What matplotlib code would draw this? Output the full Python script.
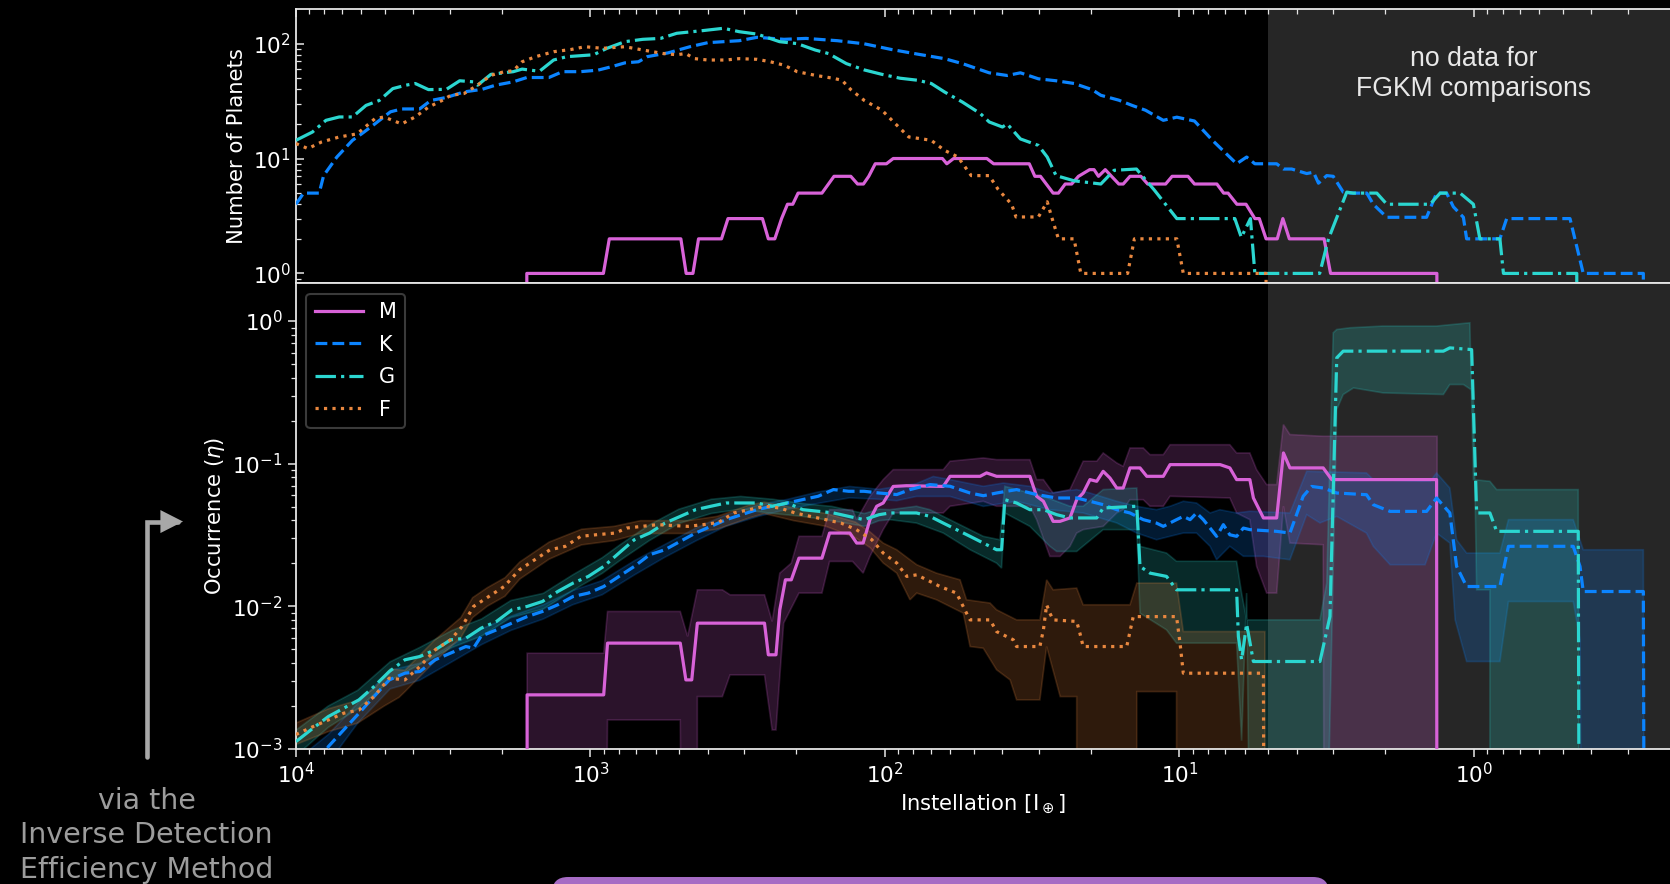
import numpy as np
import matplotlib
matplotlib.use("Agg")
import matplotlib.pyplot as plt
from matplotlib.path import Path
from matplotlib.patches import FancyArrowPatch, FancyBboxPatch
from matplotlib.transforms import IdentityTransform


# DATA  (x = log10 instellation)

# number of planets per spectral type: (log10 S, N)
m_count = [
    (3.216, 0), (3.216, 1), (2.956, 1), (2.936, 2), (2.693, 2), (2.675, 1), (2.652, 1), (2.633, 2),
    (2.555, 2), (2.533, 3), (2.416, 3), (2.396, 2), (2.374, 2), (2.351, 3), (2.331, 4), (2.313, 4),
    (2.295, 5), (2.214, 5), (2.173, 7), (2.116, 7), (2.093, 6), (2.073, 6), (2.055, 7), (2.033, 9),
    (1.995, 9), (1.972, 10), (1.805, 10), (1.790, 9), (1.767, 10), (1.654, 10), (1.631, 9), (1.510, 9),
    (1.491, 7), (1.472, 7), (1.429, 5), (1.411, 5), (1.388, 6), (1.366, 6), (1.343, 7), (1.305, 8),
    (1.290, 8), (1.275, 7), (1.252, 8), (1.206, 6), (1.191, 6), (1.168, 7), (1.131, 7), (1.108, 6),
    (1.047, 6), (1.025, 7), (0.971, 7), (0.949, 6), (0.873, 6), (0.850, 5), (0.835, 5), (0.805, 4),
    (0.774, 4), (0.744, 3), (0.729, 3), (0.706, 2), (0.668, 2), (0.649, 3), (0.627, 2), (0.509, 2),
    (0.487, 1), (0.126, 1), (0.126, 0),
]
k_count = [
    (4.0, 4.0), (3.974, 5.0), (3.921, 5.0), (3.906, 7.1), (3.861, 10.3), (3.808, 14.4), (3.777, 16.4),
    (3.732, 20), (3.679, 25.5), (3.641, 27), (3.580, 27), (3.542, 32), (3.489, 34), (3.429, 38),
    (3.368, 40), (3.322, 43.5), (3.262, 46.5), (3.216, 50.7), (3.141, 50.7), (3.095, 57), (3.034, 57),
    (2.974, 58.8), (2.928, 63), (2.883, 68), (2.837, 69.5), (2.807, 77), (2.737, 83), (2.662, 94),
    (2.601, 102), (2.495, 106), (2.434, 113.5), (2.343, 109), (2.268, 111), (2.161, 106), (2.070, 99.6),
    (1.979, 89), (1.889, 81), (1.798, 74), (1.737, 67), (1.646, 55.7), (1.585, 52.8), (1.540, 55.7),
    (1.479, 49.4), (1.419, 47.5), (1.358, 45), (1.297, 39.8), (1.267, 35.5), (1.206, 32.2), (1.161, 29),
    (1.115, 26.3), (1.055, 21.5), (1.009, 22.9), (0.949, 21.2), (0.888, 14.4), (0.806, 9.0),
    (0.772, 10.3), (0.744, 9), (0.670, 9), (0.647, 8.1), (0.619, 8.1), (0.568, 7.4), (0.545, 7.6),
    (0.528, 6.1), (0.500, 7.1), (0.478, 7.0), (0.444, 5.1), (0.421, 5), (0.364, 5), (0.342, 4.0),
    (0.296, 3.08), (0.161, 3.08), (0.127, 5.0), (0.093, 5), (0.070, 3.8), (0.036, 3.08), (0.025, 2.0),
    (-0.088, 2.0), (-0.111, 3.0), (-0.326, 3.0), (-0.371, 1.0), (-0.575, 1.0), (-0.581, 0),
]
g_count = [
    (4.0, 14.4), (3.944, 17), (3.898, 21.5), (3.853, 23), (3.808, 23), (3.762, 29), (3.717, 32),
    (3.671, 40.6), (3.626, 43.5), (3.595, 45), (3.550, 39.8), (3.489, 40), (3.444, 47.5), (3.398, 46.5),
    (3.383, 43.5), (3.338, 54), (3.262, 57), (3.232, 60), (3.186, 58), (3.171, 58), (3.125, 72),
    (3.080, 77), (2.989, 80), (2.944, 91), (2.883, 104), (2.822, 109), (2.762, 111), (2.707, 123),
    (2.616, 130), (2.548, 136), (2.495, 127), (2.434, 121), (2.358, 104), (2.298, 100), (2.237, 88),
    (2.192, 82), (2.131, 67), (2.070, 59), (2.010, 54), (1.949, 50), (1.889, 48), (1.843, 45),
    (1.798, 38), (1.737, 31), (1.676, 24.6), (1.646, 20.8), (1.601, 18.8), (1.585, 20), (1.540, 14.8),
    (1.479, 13), (1.449, 10.3), (1.419, 7.1), (1.358, 6.4), (1.267, 6.0), (1.222, 7.9), (1.146, 8.1),
    (1.085, 5.3), (1.009, 3.0), (0.812, 3.0), (0.790, 2.06), (0.759, 3.0), (0.744, 1.0), (0.524, 1.0),
    (0.494, 2.0), (0.432, 5.1), (0.410, 5), (0.330, 5), (0.296, 4), (0.149, 4), (0.115, 5), (0.047, 5),
    (0.002, 4), (-0.020, 2), (-0.088, 2), (-0.100, 1), (-0.349, 1), (-0.355, 0),
]
f_count = [
    (4.0, 13.5), (3.959, 12.2), (3.914, 13.9), (3.853, 15.4), (3.792, 16.4), (3.732, 22.2), (3.701, 23),
    (3.641, 20), (3.595, 23), (3.550, 28), (3.504, 32), (3.474, 35.5), (3.429, 36.8), (3.383, 43.5),
    (3.338, 53), (3.292, 57), (3.262, 58), (3.232, 69.5), (3.186, 77), (3.125, 85), (3.065, 89),
    (3.019, 94), (2.959, 91), (2.883, 94), (2.822, 88), (2.753, 82), (2.707, 80), (2.677, 82),
    (2.646, 74), (2.601, 72), (2.540, 72), (2.495, 74), (2.434, 73), (2.389, 69.5), (2.343, 65),
    (2.298, 57), (2.237, 53), (2.177, 50), (2.146, 48), (2.116, 39.8), (2.070, 32), (2.010, 26.3),
    (1.964, 20), (1.919, 15.4), (1.873, 14.8), (1.843, 14.4), (1.798, 11.8), (1.752, 10.3), (1.707, 7.1),
    (1.646, 7.1), (1.616, 5.4), (1.570, 4.0), (1.555, 3.1), (1.479, 3.1), (1.449, 4.2), (1.434, 3.1),
    (1.411, 2.0), (1.358, 2.0), (1.335, 1.0), (1.176, 1.0), (1.153, 2.0), (1.009, 2.0), (0.987, 1.0),
    (0.706, 1.0), (0.706, 0),
]

# occurrence: (log10 S, log10 eta); -6 means "no value" (falls below the axis)
m_eta = [
    (3.215, -6), (3.215, -2.622), (2.955, -2.622), (2.942, -2.259), (2.695, -2.259), (2.676, -2.517),
    (2.656, -2.517), (2.637, -2.119), (2.409, -2.119), (2.396, -2.341), (2.370, -2.341), (2.357, -2.025),
    (2.338, -1.815), (2.318, -1.815), (2.292, -1.663), (2.214, -1.663), (2.188, -1.487), (2.119, -1.487),
    (2.096, -1.557), (2.074, -1.557), (2.051, -1.393), (2.028, -1.299), (2.006, -1.276), (1.972, -1.160),
    (1.927, -1.155), (1.802, -1.160), (1.779, -1.089), (1.677, -1.089), (1.655, -1.065), (1.621, -1.089),
    (1.508, -1.089), (1.485, -1.229), (1.462, -1.264), (1.429, -1.405), (1.406, -1.405), (1.372, -1.381),
    (1.349, -1.253), (1.327, -1.206), (1.304, -1.112), (1.281, -1.124), (1.259, -1.054), (1.236, -1.101),
    (1.213, -1.171), (1.191, -1.171), (1.168, -1.030), (1.134, -1.030), (1.111, -1.089), (1.055, -1.089),
    (1.032, -1.007), (0.862, -1.007), (0.829, -1.030), (0.806, -1.112), (0.761, -1.112), (0.749, -1.241),
    (0.715, -1.381), (0.670, -1.381), (0.647, -0.925), (0.625, -1.030), (0.512, -1.030), (0.483, -1.112),
    (0.127, -1.112), (0.125, -6),
]
m_eta_hi = [
    (3.215, -2.33), (2.955, -2.33), (2.942, -2.037), (2.695, -2.037), (2.670, -2.212), (2.637, -1.885),
    (2.552, -1.885), (2.526, -1.920), (2.409, -1.920), (2.383, -2.107), (2.357, -1.768), (2.318, -1.698),
    (2.292, -1.510), (2.214, -1.510), (2.188, -1.323), (2.110, -1.323), (2.096, -1.393), (2.051, -1.229),
    (2.006, -1.112), (1.972, -1.042), (1.802, -1.042), (1.779, -0.983), (1.666, -0.960), (1.621, -0.972),
    (1.508, -0.972), (1.485, -1.112), (1.462, -1.112), (1.429, -1.206), (1.372, -1.182), (1.327, -0.983),
    (1.281, -0.983), (1.259, -0.925), (1.213, -0.995), (1.191, -1.019), (1.168, -0.890), (1.123, -0.890),
    (1.100, -0.937), (1.055, -0.937), (1.032, -0.867), (0.829, -0.867), (0.806, -0.925), (0.761, -0.925),
    (0.738, -1.042), (0.704, -1.147), (0.670, -1.147), (0.647, -0.726), (0.625, -0.796), (0.512, -0.808),
    (0.125, -0.808),
]
m_eta_lo = [
    (3.215, -6), (2.955, -6), (2.942, -2.798), (2.695, -2.798), (2.682, -6), (2.637, -6), (2.637, -2.634),
    (2.552, -2.634), (2.526, -2.482), (2.409, -2.482), (2.383, -2.868), (2.370, -2.868), (2.344, -2.119),
    (2.292, -1.908), (2.214, -1.908), (2.188, -1.686), (2.110, -1.686), (2.074, -1.768), (2.051, -1.651),
    (2.006, -1.463), (1.972, -1.346), (1.802, -1.346), (1.779, -1.299), (1.666, -1.264), (1.621, -1.299),
    (1.508, -1.299), (1.485, -1.393), (1.440, -1.651), (1.406, -1.651), (1.372, -1.581), (1.349, -1.487),
    (1.327, -1.463), (1.259, -1.440), (1.213, -1.346), (1.191, -1.323), (1.168, -1.253), (1.123, -1.253),
    (1.100, -1.299), (1.055, -1.299), (1.032, -1.229), (0.829, -1.241), (0.806, -1.346), (0.761, -1.393),
    (0.738, -1.721), (0.704, -1.908), (0.670, -1.908), (0.647, -1.299), (0.625, -1.557), (0.512, -1.569),
    (0.506, -6), (0.125, -6),
]

k_eta = [
    (3.95, -3.2), (3.890, -2.985), (3.838, -2.868), (3.786, -2.751), (3.735, -2.634), (3.683, -2.517),
    (3.630, -2.470), (3.579, -2.458), (3.527, -2.376), (3.475, -2.329), (3.423, -2.283), (3.397, -2.294),
    (3.371, -2.210), (3.319, -2.166), (3.267, -2.119), (3.215, -2.073), (3.163, -2.037), (3.111, -1.990),
    (3.059, -1.932), (3.007, -1.908), (2.955, -1.862), (2.903, -1.791), (2.851, -1.721), (2.799, -1.639),
    (2.747, -1.604), (2.695, -1.545), (2.643, -1.487), (2.591, -1.440), (2.539, -1.393), (2.487, -1.358),
    (2.435, -1.323), (2.383, -1.299), (2.331, -1.276), (2.279, -1.252), (2.227, -1.229), (2.175, -1.182),
    (2.123, -1.194), (2.071, -1.194), (2.020, -1.206), (1.960, -1.217), (1.915, -1.182), (1.847, -1.147),
    (1.779, -1.159), (1.711, -1.206), (1.666, -1.225), (1.621, -1.206), (1.553, -1.182), (1.485, -1.217),
    (1.417, -1.241), (1.349, -1.241), (1.304, -1.264), (1.259, -1.288), (1.213, -1.323), (1.168, -1.346),
    (1.123, -1.393), (1.078, -1.417), (1.055, -1.440), (1.010, -1.393), (0.987, -1.370), (0.964, -1.393),
    (0.942, -1.346), (0.919, -1.393), (0.896, -1.452), (0.874, -1.510), (0.851, -1.428), (0.829, -1.499),
    (0.806, -1.510), (0.783, -1.452), (0.761, -1.463), (0.670, -1.475), (0.625, -1.487), (0.580, -1.229),
    (0.551, -1.160), (0.512, -1.171), (0.466, -1.206), (0.365, -1.218), (0.342, -1.288), (0.285, -1.335),
    (0.161, -1.335), (0.127, -1.241), (0.082, -1.346), (0.059, -1.721), (0.025, -1.862), (-0.088, -1.862),
    (-0.117, -1.580), (-0.337, -1.580), (-0.360, -1.721), (-0.371, -1.897), (-0.575, -1.897), (-0.581, -6),
]
k_eta_hi = [
    (3.95, -3.0), (3.89, -2.90), (3.79, -2.68), (3.68, -2.45), (3.58, -2.40), (3.47, -2.27), (3.37, -2.16),
    (3.27, -2.07), (3.16, -1.99), (3.06, -1.89), (2.96, -1.82), (2.85, -1.68), (2.75, -1.57), (2.64, -1.45),
    (2.54, -1.36), (2.43, -1.29), (2.33, -1.25), (2.23, -1.20), (2.12, -1.16), (2.02, -1.18), (1.960, -1.16),
    (1.893, -1.14), (1.836, -1.09), (1.779, -1.112), (1.666, -1.159), (1.598, -1.136), (1.508, -1.159),
    (1.440, -1.206), (1.349, -1.182), (1.304, -1.206), (1.213, -1.264), (1.145, -1.299), (1.078, -1.323),
    (1.032, -1.299), (0.987, -1.264), (0.942, -1.276), (0.896, -1.346), (0.863, -1.323), (0.806, -1.346),
    (0.761, -1.334), (0.625, -1.346), (0.568, -1.054), (0.365, -1.065), (0.342, -1.112), (0.149, -1.124),
    (0.127, -1.065), (0.082, -1.171), (0.059, -1.534), (0.025, -1.627), (-0.088, -1.627), (-0.117, -1.393),
    (-0.337, -1.393), (-0.371, -1.604), (-0.575, -1.604), (-0.581, -6),
]
k_eta_lo = [
    (3.95, -3.3), (3.89, -3.10), (3.79, -2.82), (3.68, -2.58), (3.58, -2.52), (3.47, -2.39), (3.37, -2.27),
    (3.27, -2.17), (3.16, -2.09), (3.06, -1.99), (2.96, -1.92), (2.85, -1.78), (2.75, -1.66), (2.64, -1.54),
    (2.54, -1.44), (2.43, -1.37), (2.33, -1.32), (2.23, -1.28), (2.12, -1.24), (2.02, -1.25), (1.960, -1.26),
    (1.893, -1.23), (1.779, -1.23), (1.666, -1.30), (1.553, -1.264), (1.440, -1.323), (1.327, -1.346),
    (1.213, -1.416), (1.145, -1.487), (1.078, -1.534), (1.032, -1.510), (0.987, -1.487), (0.942, -1.487),
    (0.896, -1.580), (0.874, -1.674), (0.829, -1.580), (0.783, -1.650), (0.715, -1.650), (0.625, -1.674),
    (0.568, -1.358), (0.523, -1.416), (0.466, -1.370), (0.365, -1.487), (0.342, -1.580), (0.285, -1.709),
    (0.166, -1.709), (0.127, -1.487), (0.082, -1.557), (0.064, -2.096), (0.025, -2.388), (-0.088, -2.388),
    (-0.117, -1.967), (-0.337, -1.967), (-0.360, -2.236), (-0.371, -6), (-0.581, -6),
]

g_eta = [
    (4.0, -2.95), (3.942, -2.856), (3.890, -2.774), (3.838, -2.716), (3.786, -2.657), (3.735, -2.564),
    (3.683, -2.458), (3.630, -2.376), (3.579, -2.353), (3.527, -2.306), (3.475, -2.236), (3.423, -2.225),
    (3.371, -2.154), (3.319, -2.107), (3.267, -2.026), (3.215, -2.002), (3.163, -1.967), (3.111, -1.897),
    (3.059, -1.838), (3.007, -1.791), (2.955, -1.721), (2.903, -1.627), (2.851, -1.534), (2.799, -1.487),
    (2.747, -1.417), (2.695, -1.370), (2.643, -1.323), (2.591, -1.299), (2.539, -1.276), (2.487, -1.276),
    (2.435, -1.276), (2.383, -1.299), (2.331, -1.276), (2.279, -1.323), (2.227, -1.334), (2.175, -1.346),
    (2.123, -1.370), (2.071, -1.393), (2.020, -1.358), (1.983, -1.346), (1.893, -1.346), (1.847, -1.370),
    (1.802, -1.417), (1.757, -1.463), (1.711, -1.510), (1.666, -1.557), (1.621, -1.604), (1.604, -1.604),
    (1.593, -1.253), (1.553, -1.276), (1.508, -1.323), (1.462, -1.323), (1.417, -1.358), (1.372, -1.381),
    (1.281, -1.381), (1.259, -1.311), (1.145, -1.299), (1.134, -1.721), (1.100, -1.768), (1.044, -1.791),
    (1.010, -1.885), (0.806, -1.885), (0.800, -2.213), (0.789, -2.376), (0.772, -2.125), (0.749, -2.388),
    (0.523, -2.388), (0.489, -2.072), (0.466, -0.258), (0.444, -0.211), (0.104, -0.211), (0.082, -0.188),
    (0.008, -0.200), (-0.009, -1.346), (-0.054, -1.346), (-0.077, -1.475), (-0.354, -1.475), (-0.360, -6),
]
g_eta_hi = [
    (4.0, -2.87), (3.89, -2.70), (3.79, -2.59), (3.68, -2.39), (3.58, -2.29), (3.47, -2.17), (3.37, -2.09),
    (3.27, -1.96), (3.16, -1.91), (3.06, -1.78), (2.96, -1.66), (2.90, -1.57), (2.80, -1.43), (2.70, -1.32),
    (2.59, -1.25), (2.49, -1.23), (2.38, -1.25), (2.28, -1.28), (2.18, -1.30), (2.07, -1.35), (2.02, -1.32),
    (1.983, -1.323), (1.893, -1.299), (1.847, -1.323), (1.802, -1.370), (1.666, -1.510), (1.610, -1.534),
    (1.593, -1.159), (1.553, -1.182), (1.508, -1.206), (1.462, -1.229), (1.372, -1.299), (1.327, -1.299),
    (1.259, -1.182), (1.145, -1.171), (1.134, -1.580), (1.044, -1.627), (1.010, -1.685), (0.806, -1.685),
    (0.789, -1.908), (0.772, -2.096), (0.523, -2.096), (0.500, -1.838), (0.478, -0.082), (0.466, -0.059),
    (0.421, -0.047), (0.308, -0.035), (0.127, -0.035), (0.014, -0.012), (0.002, -1.112), (-0.054, -1.124),
    (-0.077, -1.182), (-0.354, -1.182), (-0.360, -6),
]
g_eta_lo = [
    (4.0, -3.05), (3.89, -2.85), (3.79, -2.72), (3.68, -2.52), (3.58, -2.41), (3.47, -2.29), (3.37, -2.21),
    (3.27, -2.08), (3.16, -2.02), (3.06, -1.89), (2.96, -1.77), (2.90, -1.68), (2.80, -1.54), (2.70, -1.42),
    (2.59, -1.35), (2.49, -1.32), (2.38, -1.35), (2.28, -1.37), (2.18, -1.40), (2.07, -1.44), (2.02, -1.40),
    (1.983, -1.393), (1.893, -1.417), (1.802, -1.487), (1.711, -1.604), (1.621, -1.698), (1.604, -1.733),
    (1.593, -1.346), (1.508, -1.440), (1.440, -1.580), (1.417, -1.616), (1.349, -1.616), (1.259, -1.463),
    (1.145, -1.463), (1.134, -2.049), (1.044, -2.166), (1.010, -2.259), (0.806, -2.259), (0.789, -2.943),
    (0.772, -1.908), (0.749, -6), (0.523, -6), (0.466, -0.621), (0.444, -0.515), (0.409, -0.469),
    (0.308, -0.504), (0.104, -0.515), (0.082, -0.445), (0.036, -0.445), (0.002, -0.492), (-0.009, -1.885),
    (-0.054, -1.885), (-0.054, -6), (-0.360, -6),
]

f_eta = [
    (4.0, -2.90), (3.942, -2.845), (3.890, -2.798), (3.838, -2.751), (3.786, -2.728), (3.735, -2.634),
    (3.683, -2.505), (3.630, -2.517), (3.579, -2.423), (3.527, -2.306), (3.475, -2.236), (3.436, -2.143),
    (3.397, -2.002), (3.345, -1.932), (3.293, -1.862), (3.241, -1.745), (3.189, -1.674), (3.137, -1.604),
    (3.085, -1.580), (3.033, -1.510), (2.981, -1.499), (2.916, -1.487), (2.877, -1.452), (2.825, -1.440),
    (2.773, -1.428), (2.669, -1.440), (2.617, -1.428), (2.565, -1.412), (2.513, -1.346), (2.461, -1.323),
    (2.409, -1.299), (2.357, -1.311), (2.305, -1.346), (2.253, -1.370), (2.201, -1.393), (2.149, -1.417),
    (2.097, -1.463), (2.045, -1.533), (2.006, -1.627), (1.960, -1.697), (1.926, -1.791), (1.892, -1.780),
    (1.858, -1.815), (1.813, -1.862), (1.757, -1.908), (1.723, -2.049), (1.711, -2.096), (1.643, -2.096),
    (1.621, -2.178), (1.564, -2.236), (1.553, -2.283), (1.474, -2.283), (1.462, -2.166), (1.451, -1.990),
    (1.440, -2.049), (1.429, -2.096), (1.349, -2.107), (1.338, -2.190), (1.327, -2.283), (1.179, -2.283),
    (1.157, -2.073), (1.010, -2.073), (0.998, -2.260), (0.987, -2.470), (0.715, -2.470), (0.710, -6),
]
f_eta_hi = [
    (4.0, -2.82), (3.89, -2.72), (3.79, -2.66), (3.73, -2.57), (3.68, -2.44), (3.63, -2.45), (3.53, -2.24),
    (3.44, -2.08), (3.40, -1.94), (3.35, -1.87), (3.29, -1.80), (3.24, -1.69), (3.14, -1.55), (3.03, -1.46),
    (2.92, -1.44), (2.83, -1.40), (2.67, -1.40), (2.57, -1.37), (2.46, -1.29), (2.41, -1.27), (2.31, -1.31),
    (2.20, -1.35), (2.10, -1.41), (2.05, -1.48), (2.006, -1.557), (1.960, -1.604), (1.915, -1.674),
    (1.892, -1.709), (1.825, -1.768), (1.745, -1.815), (1.723, -1.955), (1.643, -1.978), (1.621, -2.025),
    (1.553, -2.096), (1.474, -2.096), (1.451, -1.815), (1.429, -1.885), (1.349, -1.873), (1.327, -1.990),
    (1.168, -1.990), (1.145, -1.838), (1.010, -1.838), (0.987, -2.178), (0.710, -2.178),
]
f_eta_lo = [
    (4.0, -2.97), (3.89, -2.88), (3.79, -2.82), (3.73, -2.74), (3.70, -2.70), (3.65, -2.64), (3.63, -2.60),
    (3.53, -2.39), (3.44, -2.22), (3.40, -2.08), (3.35, -2.00), (3.29, -1.93), (3.24, -1.81), (3.14, -1.67),
    (3.03, -1.57), (2.92, -1.54), (2.83, -1.49), (2.67, -1.49), (2.57, -1.46), (2.46, -1.38), (2.41, -1.35),
    (2.31, -1.40), (2.20, -1.44), (2.10, -1.52), (2.05, -1.59), (2.006, -1.697), (1.960, -1.768),
    (1.915, -1.955), (1.892, -1.908), (1.825, -1.955), (1.734, -2.049), (1.711, -2.283), (1.666, -2.295),
    (1.621, -2.446), (1.575, -2.517), (1.553, -2.657), (1.474, -2.657), (1.451, -2.283), (1.405, -2.634),
    (1.349, -2.634), (1.349, -6), (1.145, -6), (1.145, -2.599), (1.010, -2.599), (1.010, -6), (0.710, -6),
]

labels = ["M", "K", "G", "F"]
colors = ["#D862D8", "#0B84FF", "#2BD6D0", "#E8873F"]
styles = ["-", "--", "-.", ":"]
counts = [m_count, k_count, g_count, f_count]
etas = [m_eta, k_eta, g_eta, f_eta]
eta_hi = [m_eta_hi, k_eta_hi, g_eta_hi, f_eta_hi]
eta_lo = [m_eta_lo, k_eta_lo, g_eta_lo, f_eta_lo]

NO_DATA_BELOW = 5.0  # instellation below which FGKM comparisons are impossible


def split(pairs):
    a = np.array(pairs, dtype=float)
    return 10 ** a[:, 0], a[:, 1]


def split_log(pairs):
    a = np.array(pairs, dtype=float)
    return 10 ** a[:, 0], 10 ** a[:, 1]


# FIGURE

plt.rcParams["font.family"] = "DejaVu Sans"
fig = plt.figure(figsize=(16.70, 8.84), dpi=100, facecolor="black")

ax_n = fig.add_axes([0.1772, 0.6795, 0.8228, 0.3100])
ax_e = fig.add_axes([0.1772, 0.1530, 0.8228, 0.5265])

for ax in (ax_n, ax_e):
    ax.set_facecolor("black")
    ax.set_xscale("log")
    ax.set_yscale("log", nonpositive="clip")
    ax.set_xlim(1e4, 0.216)
    ax.axvspan(NO_DATA_BELOW, 0.01, color="#262626", lw=0, zorder=0)
    for side, sp in ax.spines.items():
        sp.set_color("#e6e6e6")
        sp.set_linewidth(1.3)
    ax.spines["right"].set_visible(False)

# top: number of planets
for lab, col, ls, data in zip(labels, colors, styles, counts):
    x, y = split(data)
    ax_n.plot(x, y, color=col, ls=ls, lw=2.3, zorder=3)

ax_n.set_ylim(0.82, 199)
ax_n.set_ylabel("Number of Planets", color="white", fontsize=15.2)
ax_n.tick_params(axis="both", which="both", direction="in", colors="#e6e6e6",
                 labelcolor="white", labelsize=15.5)
ax_n.tick_params(axis="x", which="both", top=True, bottom=False,
                 labelbottom=False, labeltop=False)
ax_n.tick_params(which="major", length=6, width=1.1)
ax_n.tick_params(which="minor", length=3.5, width=0.9)
ax_n.text(1.0, 0.765, "no data for\nFGKM comparisons", transform=ax_n.get_xaxis_transform(),
          ha="center", va="center", fontsize=19.2, color="#e8e8e8",
          family="Liberation Sans", linespacing=1.2)

# bottom: occurrence with uncertainty bands
for lab, col, ls, mid, hi, lo in zip(labels, colors, styles, etas, eta_hi, eta_lo):
    xh, yh = split_log(hi)
    xl, yl = split_log(lo)
    ax_e.fill(np.concatenate([xh, xl[::-1]]), np.concatenate([yh, yl[::-1]]),
              facecolor=col, edgecolor=col, alpha=0.2, lw=1.2, zorder=1)
for lab, col, ls, mid in zip(labels, colors, styles, etas):
    x, y = split_log(mid)
    ax_e.plot(x, y, color=col, ls=ls, lw=2.3, label=lab, zorder=3)

ax_e.set_ylim(1e-3, 1.84)
ax_e.set_ylabel(r"Occurrence ($\eta$)", color="white", fontsize=15.2)
ax_e.set_xlabel(r"Instellation [I$_\oplus$]", color="white", fontsize=15.2)
ax_e.tick_params(axis="both", which="both", direction="out", colors="#e6e6e6",
                 labelcolor="white", labelsize=15.5)
ax_e.tick_params(which="major", length=6, width=1.1)
ax_e.tick_params(which="minor", length=3.5, width=0.9)

leg = ax_e.legend(loc="upper left", fontsize=15, handlelength=2.3, labelspacing=0.6,
                  facecolor="black", edgecolor="#3a3a3a", framealpha=1, labelcolor="white")
leg.get_frame().set_linewidth(1.5)

# left annotation with elbow arrow
arrow = FancyArrowPatch(path=Path([(0.0878, 0.144), (0.0878, 0.410), (0.1096, 0.410)]),
                        arrowstyle="-|>,head_length=0.55,head_width=0.28", mutation_scale=20,
                        color="#a8a8a8", lw=3.3, shrinkA=0, shrinkB=0,
                        transform=fig.transFigure, joinstyle="miter")
fig.add_artist(arrow)
fig.text(0.0878, 0.055, "via the\nInverse Detection\nEfficiency Method", ha="center", va="center",
         fontsize=20.5, color="#9c9c9c", linespacing=1.29)

# purple box peeking in at the bottom edge
box = FancyBboxPatch((552, -60), 777, 67, boxstyle="round,pad=0,rounding_size=16",
                     transform=IdentityTransform(), facecolor="#A66BC4", edgecolor="none")
fig.add_artist(box)

fig.savefig("out.png", dpi=100, facecolor="black")
